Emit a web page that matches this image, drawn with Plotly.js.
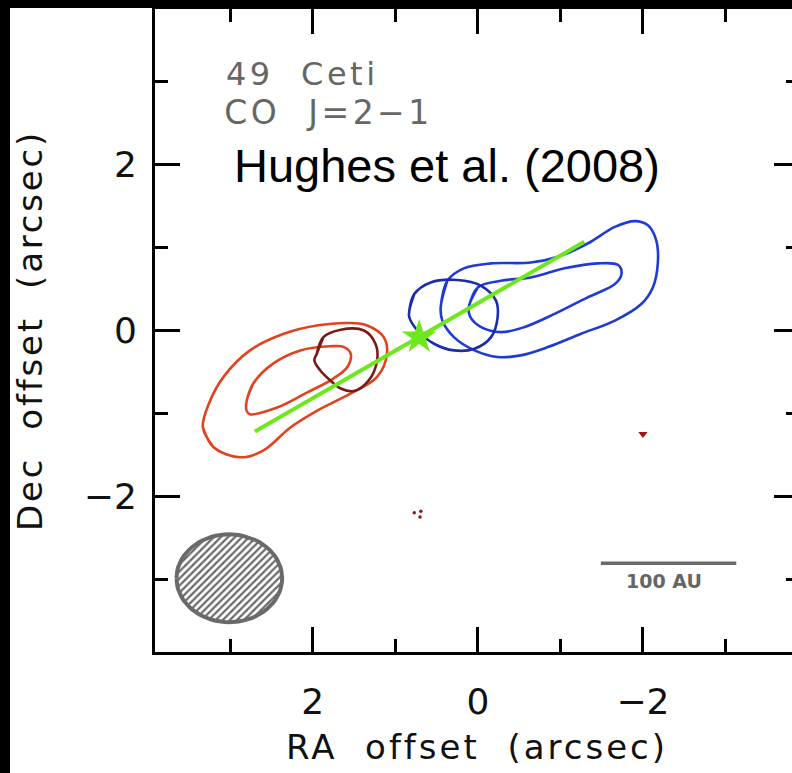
<!DOCTYPE html>
<html><head><meta charset="utf-8">
<script src="https://cdn.plot.ly/plotly-3.0.1.min.js"></script>
<style>
html,body{margin:0;padding:0;background:#000;overflow:hidden;width:792px;height:773px;}
#chart{position:absolute;left:10px;top:8px;width:800px;height:765px;}
.xtitle{letter-spacing:3px;}
.ytitle{letter-spacing:2.8px;}
.annotation[data-index="0"] text,.annotation[data-index="1"] text{letter-spacing:3.5px;}
</style></head><body><div id="chart"></div>
<script>
// ---- data (arcsec offsets) ----
const redOuterX = [3.33, 3.20, 2.88, 2.60, 2.27, 1.95, 1.54, 1.22, 1.10, 1.14, 1.34, 1.54, 1.95, 2.35, 2.76, 3.08, 3.26];
const redOuterY = [-1.17, -1.41, -1.53, -1.45, -1.17, -0.97, -0.76, -0.56, -0.28, -0.08, 0.06, 0.09, 0.06, -0.04, -0.24, -0.56, -0.89];
const redInnerX = [2.80, 2.72, 2.48, 2.15, 1.79, 1.62, 1.54, 1.58, 1.75, 2.07, 2.43, 2.76, 2.80];
const redInnerY = [-0.85, -0.64, -0.40, -0.24, -0.19, -0.20, -0.28, -0.44, -0.58, -0.75, -0.93, -1.01, -0.97];
const maroonX = [1.95, 1.87, 1.66, 1.38, 1.24, 1.22, 1.32, 1.50, 1.66, 1.79, 1.91, 1.98];
const maroonY = [-0.28, -0.08, 0.01, 0.00, -0.16, -0.36, -0.60, -0.73, -0.70, -0.60, -0.48, -0.36];
const blueSmallX = [0.83, 0.77, 0.57, 0.25, -0.04, -0.22, -0.24, -0.16, 0.04, 0.29, 0.53, 0.73, 0.83];
const blueSmallY = [0.24, 0.44, 0.58, 0.61, 0.54, 0.36, 0.16, -0.08, -0.22, -0.24, -0.16, 0.00, 0.16];
const blueOuterX = [0.45, 0.37, 0.17, -0.16, -0.64, -0.97, -1.33, -1.66, -1.90, -2.06, -2.16, -2.18, -2.12, -1.98, -1.66, -1.25, -0.85, -0.52, -0.24, 0.04, 0.29, 0.43];
const blueOuterY = [0.28, 0.60, 0.75, 0.81, 0.82, 0.89, 1.05, 1.25, 1.32, 1.27, 1.09, 0.81, 0.52, 0.32, 0.12, -0.04, -0.20, -0.30, -0.32, -0.24, -0.08, 0.12];
const blueInnerX = [0.11, 0.00, -0.28, -0.64, -1.05, -1.45, -1.70, -1.74, -1.66, -1.33, -0.93, -0.56, -0.28, -0.04, 0.09];
const blueInnerY = [0.28, 0.52, 0.60, 0.64, 0.75, 0.81, 0.79, 0.68, 0.56, 0.40, 0.20, 0.04, -0.02, 0.04, 0.16];
const axisLineX = [2.70, -1.29];
const axisLineY = [-1.22, 1.07];
const starX = [0.71];
const starY = [-0.08];
const noiseDotX = [0.77, 0.69, 0.70];
const noiseDotY = [-2.20, -2.18, -2.25];
const noiseBlobX = [-2.00];
const noiseBlobY = [-1.25];
const beamCenter = [3.01, -2.99];
const beamSemiAxes = [0.64, 0.53];
const scaleBarX = [-1.49, -3.13];
const scaleBarY = [-2.81, -2.81];
const xTickVals = [2, 0, -2];
const yTickVals = [2, 0, -2];

function closed(a){ return a.concat([a[0], a[1]]); }
function contour(xs, ys, color){
  return {x: closed(xs), y: closed(ys), mode:'lines', type:'scatter',
    line:{color:color, width:2.6, shape:'spline', smoothing:1.0}, hoverinfo:'skip', showlegend:false};
}
const beamX = [], beamY = [];
for (let i = 0; i <= 72; i++) {
  const t = i / 72 * 2 * Math.PI;
  beamX.push(beamCenter[0] + beamSemiAxes[0] * Math.cos(t));
  beamY.push(beamCenter[1] + beamSemiAxes[1] * Math.sin(t));
}

const traces = [
  {x: beamX, y: beamY, type:'scatter', mode:'lines', fill:'toself', fillcolor:'#fff',
   fillpattern:{shape:'/', fgcolor:'#6a6a6a', bgcolor:'#fff', size:5, solidity:0.45},
   line:{color:'#6a6a6a', width:4}, showlegend:false, hoverinfo:'skip'},
  contour(redOuterX, redOuterY, '#e2421e'),
  contour(redInnerX, redInnerY, '#e2421e'),
  contour(maroonX, maroonY, '#7a1a12'),
  contour(blueOuterX, blueOuterY, '#1f3bd6'),
  contour(blueInnerX, blueInnerY, '#1f3bd6'),
  contour(blueSmallX, blueSmallY, '#1c2cae'),
  {x: axisLineX, y: axisLineY, type:'scatter', mode:'lines', line:{color:'#6ee71e', width:4}, showlegend:false},
  {x: starX, y: starY, type:'scatter', mode:'markers', marker:{symbol:'star', size:26, color:'#6ee71e', line:{width:0}}, showlegend:false},
  {x: noiseDotX, y: noiseDotY, type:'scatter', mode:'markers', marker:{size:3.5, color:'#8a1a1a'}, showlegend:false},
  {x: noiseBlobX, y: noiseBlobY, type:'scatter', mode:'markers', marker:{symbol:'triangle-down', size:8, color:'#a0140e'}, showlegend:false},
  {x: scaleBarX, y: scaleBarY, type:'scatter', mode:'lines', line:{color:'#6a6a6a', width:3.5}, showlegend:false}
];

const axisCommon = {
  showline:true, linecolor:'#000', linewidth:3, mirror:'ticks',
  ticks:'inside', ticklen:25, tickwidth:3, tickcolor:'#000',
  showgrid:false, zeroline:false,
  tickfont:{family:'DejaVu Sans', size:36, color:'#111'},
  minor:{dtick:1, tick0:0, ticks:'inside', ticklen:13, tickwidth:3, tickcolor:'#000', showgrid:false}
};

const layout = {
  width:800, height:765,
  margin:{l:145, r:11, t:1, b:121},
  paper_bgcolor:'#fff', plot_bgcolor:'#fff',
  showlegend:false,
  xaxis: Object.assign({}, axisCommon, {
    range:[3.91, -3.89], tickmode:'array', tickvals:xTickVals, ticklabelstandoff:16,
    title:{text:'RA\u00a0\u00a0offset\u00a0\u00a0(arcsec)', font:{family:'DejaVu Sans', size:34, color:'#111'}, standoff:14}
  }),
  yaxis: Object.assign({}, axisCommon, {
    range:[-3.88, 3.88], tickmode:'array', tickvals:yTickVals, ticklabelstandoff:8,
    title:{text:'Dec\u00a0\u00a0offset\u00a0\u00a0(arcsec)', font:{family:'DejaVu Sans', size:34, color:'#111'}, standoff:32}
  }),
  annotations:[
    {x:2.91, y:3.09, xref:'x', yref:'y', text:'49\u00a0\u00a0Ceti', showarrow:false, xanchor:'left', yanchor:'middle',
     font:{family:'DejaVu Sans', size:32, color:'#666'}},
    {x:2.91, y:2.63, xref:'x', yref:'y', text:'CO\u00a0\u00a0J=2\u22121', showarrow:false, xanchor:'left', yanchor:'middle',
     font:{family:'DejaVu Sans', size:33, color:'#666'}},
    {x:2.98, y:1.99, xref:'x', yref:'y', text:'Hughes et al. (2008)', showarrow:false, xanchor:'left', yanchor:'middle',
     font:{family:'Liberation Sans', size:47, color:'#000'}},
    {x:-2.25, y:-3.02, xref:'x', yref:'y', text:'100 AU', showarrow:false, xanchor:'center', yanchor:'middle',
     font:{family:'DejaVu Sans', size:19, color:'#666', weight:'bold'}}
  ]
};

Plotly.newPlot('chart', traces, layout, {staticPlot:true, displayModeBar:false});
</script></body></html>
